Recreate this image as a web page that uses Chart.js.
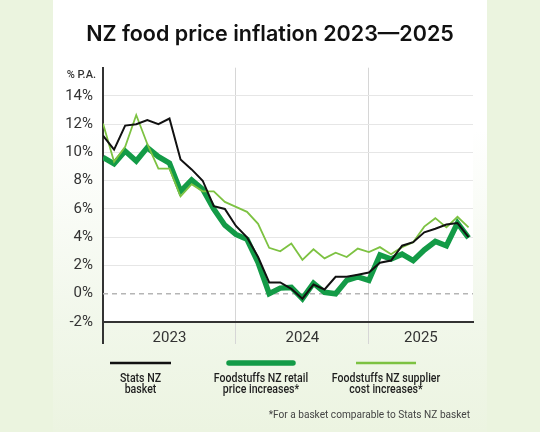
<!DOCTYPE html>
<html>
<head>
<meta charset="utf-8">
<script src="https://cdn.jsdelivr.net/npm/chart.js@4/dist/chart.umd.min.js"></script>
<style>
  html, body { margin: 0; padding: 0; background: #ebf4df; }
  #wrap { width: 540px; height: 432px; }
</style>
</head>
<body>
<div id="wrap"><canvas id="c" width="540" height="432"></canvas></div>
<script>
// ---- data (monthly, Jan 2023 .. Oct 2025) ----
const months = Array.from({length: 34}, (_, i) => i);
const statsNZ = [11.2, 10.2, 11.9, 12.0, 12.3, 12.0, 12.4, 9.5, 8.8, 8.0, 6.2, 6.0,
                 4.8, 4.0, 2.6, 0.8, 0.8, 0.35, -0.35, 0.65, 0.3, 1.2, 1.2, 1.35,
                 1.5, 2.2, 2.35, 3.4, 3.65, 4.35, 4.6, 4.9, 5.0, 4.0];
const retail = [9.65, 9.2, 10.1, 9.4, 10.35, 9.7, 9.25, 7.25, 8.05, 7.4, 6.0, 4.85,
                4.2, 3.85, 2.2, 0.0, 0.4, 0.45, -0.35, 0.75, 0.1, 0.0, 0.95, 1.2,
                0.95, 2.75, 2.45, 2.8, 2.35, 3.1, 3.7, 3.4, 5.0, 3.95];
const supplier = [12.05, 9.35, 10.4, 12.65, 10.6, 8.85, 8.85, 6.9, 7.75, 7.25, 7.25, 6.5,
                  6.15, 5.8, 4.95, 3.25, 3.0, 3.55, 2.4, 3.15, 2.5, 2.9, 2.6, 3.2,
                  2.95, 3.3, 2.8, 3.3, 3.65, 4.75, 5.35, 4.7, 5.45, 4.7];
const yearLabels = ['2023', '2024', '2025'];
const yearLabelPos = [6, 18, 28.7];
const yearBounds = [0, 12, 24];
const yTicks = [-2, 0, 2, 4, 6, 8, 10, 12, 14];
const legendLines = [['Stats NZ', 'basket'], ['Foodstuffs NZ retail', 'price increases*'], ['Foodstuffs NZ supplier', 'cost increases*']];
const titleText = 'NZ food price inflation 2023\u20142025';
const unitText = '% P.A.';
const footText = '*For a basket comparable to Stats NZ basket';

const toPts = arr => arr.map((v, i) => ({x: months[i], y: v}));

const bgPlugin = {
  id: 'bg',
  beforeDraw(chart) {
    const ctx = chart.ctx, W = chart.width, H = chart.height;
    ctx.save();
    ctx.fillStyle = '#ebf4df';
    ctx.fillRect(0, 0, W, H);
    const g = ctx.createLinearGradient(0, 0, 0, H);
    g.addColorStop(0, '#ffffff');
    g.addColorStop(0.3, '#ffffff');
    g.addColorStop(0.75, '#f1f7ea');
    g.addColorStop(1, '#ecf4e1');
    ctx.fillStyle = g;
    ctx.fillRect(53, 0, 434, H);
    const a = chart.chartArea;
    ctx.fillStyle = '#ffffff';
    ctx.fillRect(a.left, a.top, a.right - a.left, a.bottom - a.top);
    ctx.restore();
  },
  beforeDatasetsDraw(chart) {
    const ctx = chart.ctx, a = chart.chartArea;
    const y0 = chart.scales.y.getPixelForValue(0);
    ctx.save();
    ctx.strokeStyle = '#b5b5b5';
    ctx.lineWidth = 1.5;
    ctx.setLineDash([5, 4]);
    ctx.beginPath();
    ctx.moveTo(a.left, y0);
    ctx.lineTo(a.right, y0);
    ctx.stroke();
    ctx.restore();
  },
  afterDraw(chart) {
    const ctx = chart.ctx;
    ctx.save();
    // title
    ctx.fillStyle = '#111111';
    ctx.font = '600 21.5px Inter';
    ctx.textAlign = 'center';
    ctx.textBaseline = 'alphabetic';
    ctx.fillText(titleText, 270, 41);
    // unit label
    ctx.fillStyle = '#333333';
    ctx.font = '500 11px Roboto';
    ctx.textAlign = 'right';
    ctx.textBaseline = 'middle';
    ctx.fillText(unitText, 96, 75);
    // legend
    const ds = chart.data.datasets;
    const sw = [[110, 171], [229, 293], [356, 416]];
    const legendY = 363;
    ds.forEach((d, i) => {
      ctx.beginPath();
      ctx.strokeStyle = d.borderColor;
      ctx.lineWidth = i === 1 ? 5.5 : 2.5;
      ctx.lineCap = i === 1 ? 'round' : 'butt';
      ctx.moveTo(sw[i][0], legendY);
      ctx.lineTo(sw[i][1], legendY);
      ctx.stroke();
      const cx = (sw[i][0] + sw[i][1]) / 2;
      ctx.fillStyle = '#1e1e1e';
      ctx.font = '500 12px Roboto';
      ctx.textAlign = 'center';
      ctx.textBaseline = 'middle';
      legendLines[i].forEach((t, j) => {
        ctx.save();
        ctx.translate(cx, 379 + j * 11);
        ctx.scale(0.88, 1);
        ctx.fillText(t, 0, 0);
        ctx.restore();
      });
    });
    // footnote
    ctx.fillStyle = '#444444';
    ctx.font = '400 11px Roboto';
    ctx.textAlign = 'right';
    ctx.textBaseline = 'middle';
    ctx.save();
    ctx.translate(470, 415);
    ctx.scale(0.92, 1);
    ctx.fillText(footText, 0, 0);
    ctx.restore();
    ctx.restore();
  }
};

new Chart(document.getElementById('c'), {
  type: 'line',
  data: {
    datasets: [
      { label: 'Stats NZ basket', data: toPts(statsNZ), borderColor: '#111111', borderWidth: 2, order: 0 },
      { label: 'Foodstuffs NZ retail price increases*', data: toPts(retail), borderColor: '#139b47', borderWidth: 5.5, order: 2 },
      { label: 'Foodstuffs NZ supplier cost increases*', data: toPts(supplier), borderColor: '#7dc242', borderWidth: 1.8, order: 1 }
    ]
  },
  options: {
    responsive: false,
    animation: false,
    events: [],
    layout: { padding: { top: 67.7, right: 67, left: 0, bottom: 0 } },
    elements: {
      point: { radius: 0 },
      line: { tension: 0, borderJoinStyle: 'miter', borderCapStyle: 'butt' }
    },
    plugins: { legend: { display: false }, tooltip: { enabled: false }, title: { display: false } },
    scales: {
      x: {
        type: 'linear',
        min: 0,
        max: 33.4,
        afterFit: s => { s.height = 110; },
        afterBuildTicks: s => {
          s.ticks = yearBounds.concat(yearLabelPos).sort((a, b) => a - b).map(v => ({value: v}));
        },
        ticks: {
          autoSkip: false,
          maxRotation: 0,
          padding: -15,
          color: '#333333',
          font: { family: 'Roboto', size: 15 },
          callback: v => {
            const k = yearLabelPos.indexOf(v);
            return k >= 0 ? yearLabels[k] : '';
          }
        },
        grid: {
          tickLength: 22,
          color: c => c.tick.value === 0 ? '#333333' : (yearBounds.includes(c.tick.value) ? '#d6d6d6' : 'rgba(0,0,0,0)'),
          lineWidth: c => c.tick.value === 0 ? 2 : 1
        },
        border: { display: true, color: '#333333', width: 2 }
      },
      y: {
        min: -2,
        max: 16,
        afterFit: s => { s.width = 103; },
        afterBuildTicks: s => { s.ticks = yTicks.map(v => ({value: v})); },
        ticks: {
          padding: 10,
          color: '#333333',
          font: { family: 'Roboto', size: 15 },
          callback: v => v + '%'
        },
        grid: {
          drawTicks: false,
          color: c => (c.tick.value > 0 && c.tick.value < 16) ? '#e6e6e6' : 'rgba(0,0,0,0)',
          lineWidth: 1
        },
        border: { display: true, color: '#333333', width: 2 }
      }
    }
  },
  plugins: [bgPlugin]
});
</script>
</body>
</html>
